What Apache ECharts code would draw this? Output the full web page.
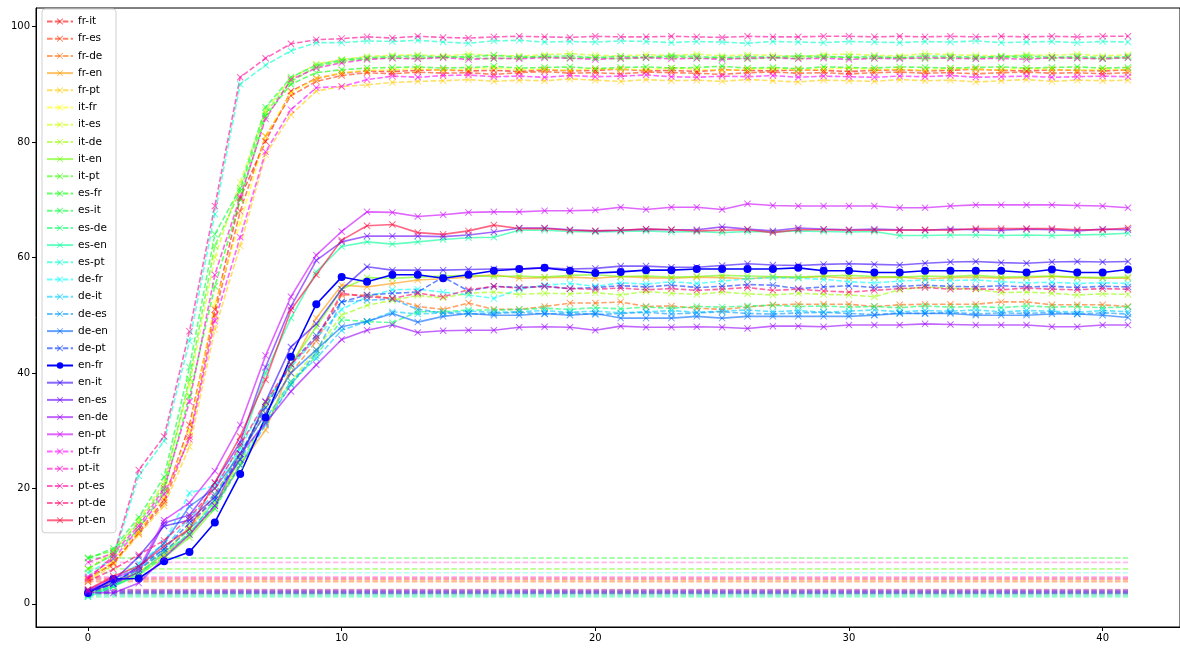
<!DOCTYPE html>
<html><head><meta charset="utf-8">
<script src="https://cdn.jsdelivr.net/npm/echarts@6/dist/echarts.min.js"></script>
<style>html,body{margin:0;padding:0;background:#fff;overflow:hidden}#c{width:1180px;height:648px}</style>
</head><body><div id="c"></div>
<script>
// ---- data ----
const steps = [0,1,2,3,4,5,6,7,8,9,10,11,12,13,14,15,16,17,18,19,20,21,22,23,24,25,26,27,28,29,30,31,32,33,34,35,36,37,38,39,40,41];
const xTicks = [0,10,20,30,40];
const yTicks = [0,20,40,60,80,100];
const pairs = ['fr-it','fr-es','fr-de','fr-en','fr-pt','it-fr','it-es','it-de','it-en','it-pt','es-fr','es-it','es-de','es-en','es-pt','de-fr','de-it','de-es','de-en','de-pt','en-fr','en-it','en-es','en-de','en-pt','pt-fr','pt-it','pt-es','pt-de','pt-en'];

const fr_it = [4.5,7.0,12.5,18.0,31.0,51.0,70.3,80.1,88.8,91.0,91.9,92.3,92.2,92.4,92.5,92.3,92.4,92.2,92.5,92.3,92.4,92.6,92.3,92.4,92.2,92.5,92.4,92.3,92.5,92.4,92.2,92.4,92.5,92.3,92.4,92.6,92.4,92.3,92.5,92.4,92.3,92.5];
const fr_es = [4.2,7.2,12.2,17.5,29.0,50.0,68.0,81.0,88.0,90.5,91.5,92.0,91.8,92.1,91.9,92.0,91.7,92.0,92.2,91.9,92.0,91.8,92.1,92.0,91.9,91.7,92.0,92.1,91.9,92.0,91.8,92.0,92.1,91.9,92.0,91.8,92.0,92.1,91.9,92.0,91.8,92.0];
const fr_de = [2.0,3.6,6.0,9.0,13.0,19.0,26.0,33.0,40.0,45.5,53.5,53.5,52.9,51.5,51.0,52.1,51.0,51.0,51.5,52.1,52.1,52.3,51.5,51.6,51.2,51.0,51.4,51.8,51.9,51.9,51.9,51.5,51.8,51.9,51.9,51.9,52.3,52.3,51.8,51.8,51.8,51.5];
const fr_en = [2.2,3.8,5.5,8.5,12.0,17.0,24.0,30.1,41.0,49.5,55.2,54.9,55.5,56.1,56.3,56.6,57.0,56.4,56.5,56.6,56.4,56.7,56.5,56.4,56.6,56.5,56.3,56.6,56.5,56.7,56.4,56.5,56.6,56.3,56.5,56.6,56.4,56.5,56.7,56.5,56.4,56.4];
const fr_pt = [3.8,6.8,12.0,17.0,27.2,47.5,62.0,77.8,84.7,88.8,89.6,89.9,90.3,90.5,90.6,90.8,90.5,90.7,90.6,90.9,90.7,90.5,90.8,90.6,90.7,90.5,90.8,90.6,90.4,90.7,90.6,90.5,90.8,90.6,90.7,90.4,90.6,90.8,90.5,90.7,90.6,90.7];
const it_fr = [4.0,7.5,12.5,18.5,30.0,52.0,66.0,81.0,88.5,91.0,92.0,92.4,92.5,92.7,92.4,92.6,92.8,92.5,92.6,92.4,92.7,92.6,92.5,92.8,92.6,92.4,92.6,92.7,92.5,92.6,92.8,92.5,92.6,92.4,92.7,92.6,92.5,92.7,92.6,92.4,92.6,92.5];
const it_es = [6.0,9.0,14.5,21.0,38.0,60.0,73.0,85.5,91.0,93.5,94.3,94.8,95.0,95.1,94.9,95.2,95.0,94.9,95.1,95.3,95.0,94.9,95.1,95.0,95.2,94.9,95.1,95.0,94.8,95.1,95.2,95.0,94.9,95.3,95.1,95.0,94.9,95.1,95.0,95.2,94.9,95.1];
const it_de = [1.6,3.0,5.5,8.5,13.5,17.5,24.5,32.0,38.5,44.0,50.0,51.7,52.6,53.4,53.0,53.8,54.0,53.6,53.8,53.7,53.9,53.5,54.1,53.8,53.6,54.0,53.7,53.5,53.8,53.6,53.5,53.2,54.4,54.9,54.7,54.5,53.9,54.0,53.8,53.5,53.7,53.6];
const it_en = [1.8,3.2,5.0,8.0,11.5,16.5,25.5,34.5,41.5,48.0,54.5,56.5,56.4,56.6,56.8,56.9,56.7,56.8,56.6,56.9,57.0,56.7,56.8,56.6,56.7,56.9,56.8,56.7,56.6,56.8,56.9,56.7,56.6,56.8,56.7,56.9,56.6,56.7,56.8,56.6,56.5,56.6];
const it_pt = [8.0,9.2,14.0,20.5,39.0,62.0,71.5,85.0,90.5,93.0,94.0,94.4,94.6,94.5,94.7,94.6,94.4,94.6,94.7,94.5,94.6,94.4,94.6,94.7,94.5,94.6,94.4,94.6,94.5,94.7,94.6,94.5,94.6,94.4,94.6,94.5,94.7,94.6,94.5,94.6,94.4,94.6];
const es_fr = [6.1,8.5,13.0,19.5,36.0,55.0,70.0,84.5,90.0,92.0,92.5,92.8,92.9,93.0,92.8,92.9,93.1,92.8,92.9,93.0,92.7,92.9,93.0,92.8,92.9,93.1,92.8,92.9,92.7,93.0,92.9,92.8,93.0,92.9,92.8,92.9,93.0,92.8,92.9,93.0,92.8,92.9];
const es_it = [7.9,9.6,15.0,22.0,41.0,64.0,72.0,86.0,91.2,93.3,94.2,94.6,94.8,94.9,94.7,94.8,95.0,94.7,94.8,94.9,94.6,94.8,94.7,94.9,94.8,94.6,94.8,94.7,94.9,94.8,94.7,94.8,94.6,94.9,94.8,94.7,94.8,94.9,94.7,94.8,94.6,94.8];
const es_de = [1.3,3.0,5.5,8.0,12.5,16.5,24.0,31.5,38.0,43.0,49.2,48.9,48.7,50.6,50.6,50.9,50.9,51.0,51.2,51.0,51.3,51.1,51.4,51.2,51.5,51.4,51.6,51.7,51.5,51.6,51.4,51.5,51.3,51.6,51.4,51.5,51.3,51.6,51.4,51.5,51.3,51.4];
const es_en = [1.2,3.0,5.0,9.0,12.0,18.0,27.0,40.0,49.5,57.5,61.9,62.7,62.3,62.7,63.1,63.4,63.5,64.7,64.7,64.5,64.4,64.5,64.6,64.4,64.5,64.3,64.5,64.4,64.6,64.5,64.4,64.5,63.8,63.8,63.9,63.9,63.8,63.9,63.8,63.9,64.0,64.2];
const es_pt = [5.4,7.8,22.2,28.2,45.5,67.5,90.0,93.3,95.8,97.2,97.2,97.5,97.4,97.6,97.3,97.1,97.5,97.6,97.3,97.4,97.3,97.5,97.4,97.2,97.4,97.3,97.1,97.4,97.3,97.2,97.4,97.3,97.2,97.4,97.3,97.5,97.2,97.3,97.4,97.2,97.4,97.3];
const de_fr = [2.4,4.0,7.0,10.5,19.2,20.5,27.0,35.0,41.0,46.0,51.0,53.2,54.4,54.5,54.0,53.5,52.9,54.5,55.2,55.5,55.0,55.6,55.4,55.8,55.5,55.9,56.3,56.5,56.4,56.2,55.8,55.6,55.9,56.1,56.0,56.1,55.8,55.6,55.7,55.5,55.6,55.5];
const de_it = [1.5,3.2,6.0,9.5,15.0,19.0,25.0,32.0,38.5,42.5,47.4,48.9,50.6,50.2,50.4,50.7,50.5,50.6,50.8,50.5,50.7,50.4,50.6,50.8,50.5,50.7,50.9,50.6,50.8,50.5,50.7,50.9,50.6,50.8,50.7,50.9,50.6,50.8,50.7,50.5,50.8,50.6];
const de_es = [1.7,3.8,6.0,9.0,13.0,17.0,24.0,31.0,38.0,43.5,52.3,52.6,52.8,51.0,50.4,50.2,50.3,50.5,50.2,50.4,50.1,50.3,50.5,50.2,50.4,50.6,50.3,50.2,50.4,50.5,50.3,50.1,50.4,50.3,50.5,50.2,50.4,50.3,50.5,50.2,50.4,50.2];
const de_en = [2.1,3.5,6.5,10.5,16.9,20.0,26.0,33.0,40.0,44.0,48.0,48.9,50.3,48.8,49.8,50.3,50.0,50.0,50.3,50.0,50.3,49.5,49.5,49.5,49.8,49.5,49.8,49.8,49.8,49.8,49.8,50.0,50.3,50.3,50.3,50.0,50.0,50.0,50.2,50.2,50.0,49.6];
const de_pt = [1.9,3.5,6.5,9.5,14.0,18.0,26.0,34.0,41.5,46.5,52.3,53.5,53.8,54.0,56.6,54.2,55.0,54.8,55.0,54.6,54.8,55.1,54.9,55.2,54.8,55.0,55.3,55.2,54.6,54.9,55.1,54.8,55.0,55.2,55.0,54.9,55.1,54.9,55.0,54.8,55.0,54.9];
const en_fr = [1.9,4.3,4.4,7.4,9.0,14.1,22.5,32.3,42.8,51.9,56.6,55.8,57.0,57.0,56.4,57.0,57.7,58.0,58.2,57.7,57.3,57.5,57.8,57.8,58.0,58.0,58.0,58.0,58.2,57.7,57.7,57.4,57.4,57.7,57.7,57.7,57.7,57.4,57.9,57.4,57.4,57.9];
const en_it = [2.3,4.0,8.2,13.5,14.5,18.5,25.0,35.0,44.5,48.5,54.5,58.4,57.8,57.8,57.8,57.9,58.0,58.0,58.2,58.0,58.1,58.5,58.5,58.3,58.3,58.6,58.9,58.7,58.6,58.8,58.9,58.8,58.7,59.0,59.2,59.3,59.1,59.0,59.2,59.3,59.2,59.3];
const en_es = [2.2,3.5,5.5,14.0,15.4,21.0,28.0,41.0,51.5,59.5,62.7,63.7,63.7,63.7,63.6,63.9,64.4,65.1,65.1,64.8,64.6,64.7,64.9,64.8,64.8,65.3,64.9,64.6,65.1,64.9,64.8,64.9,64.8,64.7,64.9,64.8,64.7,64.9,64.8,64.6,64.9,64.8];
const en_de = [2.0,1.9,3.6,8.0,12.0,17.0,26.0,31.3,36.8,41.4,45.8,47.4,48.3,47.0,47.3,47.4,47.4,47.9,48.0,47.9,47.4,48.1,47.9,47.9,48.0,47.9,47.7,48.1,48.1,48.0,48.3,48.3,48.3,48.5,48.4,48.3,48.3,48.3,48.0,48.0,48.3,48.3];
const en_pt = [2.4,4.5,6.0,14.5,17.5,23.0,31.0,43.0,53.2,60.4,64.5,67.9,67.8,67.1,67.4,67.8,67.9,67.9,68.1,68.1,68.2,68.7,68.3,68.7,68.7,68.3,69.3,69.0,68.9,68.9,68.9,68.9,68.6,68.6,68.9,69.1,69.1,69.1,69.1,69.0,68.9,68.6];
const pt_fr = [4.7,7.8,13.0,19.0,28.5,49.0,63.5,78.3,85.6,89.4,89.6,90.8,91.4,91.2,91.5,91.6,91.3,91.4,91.2,91.5,91.3,91.4,91.6,91.3,91.2,91.4,91.3,91.5,91.2,91.4,91.3,91.2,91.4,91.3,91.5,91.2,91.3,91.4,91.2,91.3,91.4,91.3];
const pt_it = [7.2,8.8,13.5,20.0,35.0,57.0,70.5,84.0,90.8,92.8,93.7,94.3,94.5,94.4,94.6,94.3,94.5,94.4,94.6,94.5,94.3,94.5,94.6,94.4,94.5,94.3,94.5,94.6,94.4,94.5,94.3,94.5,94.4,94.6,94.5,94.4,94.5,94.3,94.6,94.5,94.4,94.6];
const pt_es = [4.3,8.3,23.2,29.0,47.2,68.9,91.2,94.5,97.0,97.7,97.9,98.2,98.0,98.3,98.1,98.0,98.2,98.3,98.2,98.1,98.3,98.2,98.2,98.3,98.2,98.1,98.3,98.2,98.2,98.3,98.3,98.2,98.3,98.2,98.3,98.2,98.3,98.2,98.3,98.2,98.3,98.3];
const pt_de = [3.9,6.0,8.5,11.0,15.0,20.0,27.5,35.0,41.5,46.0,53.8,53.2,52.9,53.8,53.2,54.4,55.0,54.7,55.0,54.6,54.5,54.7,54.4,54.6,54.3,54.5,54.8,54.3,54.5,54.2,54.0,54.3,54.6,54.8,54.5,54.6,54.4,54.7,54.5,54.4,54.6,54.5];
const pt_en = [2.5,4.8,6.5,10.0,13.0,21.0,29.0,38.8,50.9,57.0,63.0,65.5,65.7,64.3,64.0,64.6,65.6,65.0,65.0,64.7,64.6,64.7,64.9,64.8,64.6,64.7,64.8,64.3,64.8,64.8,64.7,64.7,64.7,64.8,64.7,65.0,65.0,65.0,65.0,64.8,64.8,65.1];

const values = [fr_it,fr_es,fr_de,fr_en,fr_pt,it_fr,it_es,it_de,it_en,it_pt,es_fr,es_it,es_de,es_en,es_pt,de_fr,de_it,de_es,de_en,de_pt,en_fr,en_it,en_es,en_de,en_pt,pt_fr,pt_it,pt_es,pt_de,pt_en];

// ---- style ----
function hsvColor(i) {
  const h = i / 30 * 6, k = Math.floor(h), f = h - k;
  const q = 1 - f, t = f;
  const rgb = [[1,t,0],[q,1,0],[0,1,t],[0,q,1],[t,0,1],[1,0,q]][k % 6];
  return 'rgb(' + rgb.map(v => Math.round(v * 255)).join(',') + ')';
}
const X_PATH = 'path://M0,1L1,0L5,4L9,0L10,1L6,5L10,9L9,10L5,6L1,10L0,9L4,5Z';
const DASH = [5.5, 2.4];

const series = [];
pairs.forEach((name, i) => {
  const c = hsvColor(i);
  const v = values[i];
  series.push({
    name: '__base_' + name, type: 'line', silent: true, symbol: 'none',
    data: [[steps[0], v[0]], [steps[steps.length - 1], v[0]]],
    lineStyle: { color: c, width: 1.6, type: DASH, opacity: 0.28 },
    itemStyle: { color: c }, z: 1
  });
});
pairs.forEach((name, i) => {
  const c = hsvColor(i);
  const solid = name.indexOf('en') >= 0;
  const isEnFr = name === 'en-fr';
  const op = isEnFr ? 1 : 0.6;
  series.push({
    name: name, type: 'line',
    data: steps.map((s, k) => [s, values[i][k]]),
    symbol: isEnFr ? 'circle' : X_PATH,
    symbolSize: isEnFr ? 8 : 7,
    showSymbol: true,
    lineStyle: { color: c, width: 1.6, type: solid ? 'solid' : DASH, opacity: op },
    itemStyle: { color: c, opacity: op },
    emphasis: { disabled: true },
    z: 2
  });
});

const chart = echarts.init(document.getElementById('c'), null, { renderer: 'canvas' });
chart.setOption({
  animation: false,
  backgroundColor: '#fff',
  grid: { left: 36, width: 1147, top: 8, bottom: 21, show: true, borderColor: '#000', borderWidth: 1, backgroundColor: 'transparent' },
  xAxis: {
    type: 'value', min: -2.05, max: 43.05,
    axisLine: { show: true, onZero: false, lineStyle: { color: '#000', width: 1 } },
    axisTick: { show: true, length: 4, customValues: xTicks, lineStyle: { color: '#000' } },
    axisLabel: { customValues: xTicks, color: '#000', fontSize: 10, fontFamily: 'DejaVu Sans', margin: 6 },
    splitLine: { show: false }
  },
  yAxis: {
    type: 'value', min: -4.0, max: 103.2,
    axisLine: { show: true, onZero: false, lineStyle: { color: '#000', width: 1 } },
    axisTick: { show: true, length: 4, customValues: yTicks, lineStyle: { color: '#000' } },
    axisLabel: { customValues: yTicks, color: '#000', fontSize: 10, fontFamily: 'DejaVu Sans', margin: 6 },
    splitLine: { show: false }
  },
  legend: {
    data: pairs, orient: 'vertical', left: 42, top: 9,
    padding: [4, 8, 4, 4], itemGap: 0.2, itemWidth: 26, itemHeight: 8,
    backgroundColor: 'rgba(255,255,255,0.85)', borderColor: '#d0d0d0', borderWidth: 1, borderRadius: 3,
    textStyle: { fontSize: 10.5, lineHeight: 17, color: '#000', fontFamily: 'DejaVu Sans' },
    selectedMode: false
  },
  series: series
});
</script></body></html>
